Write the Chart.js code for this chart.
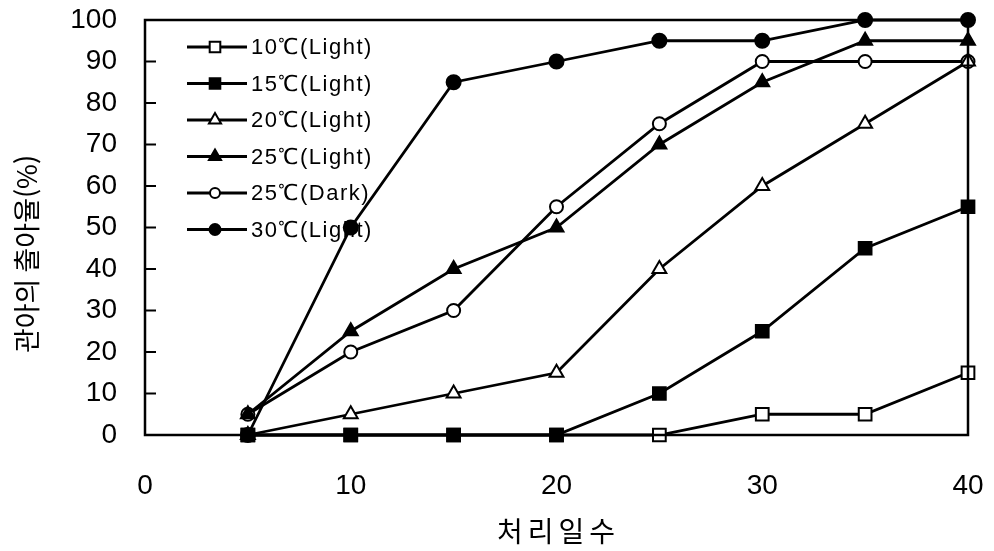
<!DOCTYPE html>
<html lang="ko">
  <head>
    <meta charset="UTF-8" />
    <title>출아율</title>
    <style>
      html, body { margin: 0; padding: 0; background: #fff; }
      .wrap { width: 994px; height: 551px; }
    </style>
  </head>
  <body>
    <div class="wrap"><canvas id="chart" width="994" height="551"></canvas></div>

    <script src="https://cdn.jsdelivr.net/npm/chart.js"></script>
    <script>
      const days = [5, 10, 15, 20, 25, 30, 35, 40];

      const t10Light = [0, 0, 0, 0, 0, 5, 5, 15];
      const t15Light = [0, 0, 0, 0, 10, 25, 45, 55];
      const t20Light = [0, 5, 10, 15, 40, 60, 75, 90];
      const t25Light = [5, 25, 40, 50, 70, 85, 95, 95];
      const t25Dark = [5, 20, 30, 55, 75, 90, 90, 90];
      const t30Light = [0, 50, 85, 90, 95, 95, 100, 100];

      const xTicks = [0, 10, 20, 30, 40];
      const yTicks = [0, 10, 20, 30, 40, 50, 60, 70, 80, 90, 100];

      const xTitle = "처리일수";
      const yTitle = "관아의 출아율(%)";

      const numFont = "'Liberation Sans', Arial, sans-serif";
      const korFont = "'Noto Sans CJK KR', 'Noto Sans', sans-serif";

      function series(label, values, style, filled, radius, legendRadius, order) {
        return {
          label,
          data: days.map((d, i) => ({ x: d, y: values[i] })),
          borderColor: "#000",
          borderWidth: 2.8,
          pointStyle: style,
          pointRadius: radius,
          legendRadius,
          order,
          pointBorderWidth: 2,
          pointBorderColor: "#000",
          pointBackgroundColor: filled ? "#000" : "#fff",
          tension: 0,
          fill: false,
        };
      }

      // box frame, inward y ticks, and axis titles
      const framePlugin = {
        id: "frame",
        afterDraw(chart) {
          const { ctx, chartArea: a, scales } = chart;
          ctx.save();
          ctx.strokeStyle = "#000";
          ctx.lineWidth = 2.5;
          ctx.strokeRect(a.left, a.top, a.right - a.left, a.bottom - a.top);
          ctx.lineWidth = 2;
          yTicks.forEach((v) => {
            const y = scales.y.getPixelForValue(v);
            ctx.beginPath();
            ctx.moveTo(a.left, y);
            ctx.lineTo(a.left + 11, y);
            ctx.stroke();
          });

          ctx.fillStyle = "#000";
          ctx.textAlign = "center";
          ctx.textBaseline = "middle";
          ctx.font = "28px " + korFont;
          ctx.letterSpacing = "5px";
          ctx.fillText(xTitle, (a.left + a.right) / 2 + 2, 531);

          ctx.font = "27px " + korFont;
          ctx.letterSpacing = "0px";
          ctx.translate(27, 254);
          ctx.rotate(-Math.PI / 2);
          ctx.fillText(yTitle, 0, 0);
          ctx.restore();
        },
      };

      // legend drawn as line-marker-line rows inside the plot
      const legendPlugin = {
        id: "lineLegend",
        afterDraw(chart) {
          const { ctx } = chart;
          const x0 = 187, x1 = 247, top = 47, gap = 36.5;
          ctx.save();
          chart.data.datasets.forEach((ds, i) => {
            const y = top + i * gap;
            ctx.strokeStyle = "#000";
            ctx.lineWidth = 2.8;
            ctx.beginPath();
            ctx.moveTo(x0, y);
            ctx.lineTo(x1, y);
            ctx.stroke();
            ctx.fillStyle = ds.pointBackgroundColor;
            ctx.lineWidth = 2;
            Chart.helpers.drawPoint(
              ctx,
              { pointStyle: ds.pointStyle, radius: ds.legendRadius, rotation: 0, borderWidth: 2 },
              215,
              y
            );
            ctx.fillStyle = "#000";
            ctx.font = "22px " + numFont;
            ctx.letterSpacing = "1.5px";
            ctx.textBaseline = "middle";
            ctx.textAlign = "left";
            ctx.fillText(ds.label, x1 + 4, y + 1);
          });
          ctx.restore();
        },
      };

      new Chart(document.getElementById("chart"), {
        type: "line",
        data: {
          datasets: [
            series("10℃(Light)", t10Light, "rect", false, 9, 7.5, 1),
            series("15℃(Light)", t15Light, "rect", true, 9, 7.5, 0),
            series("20℃(Light)", t20Light, "triangle", false, 8, 7, 0),
            series("25℃(Light)", t25Light, "triangle", true, 8, 7, 0),
            series("25℃(Dark)", t25Dark, "circle", false, 6.5, 5, 0),
            series("30℃(Light)", t30Light, "circle", true, 7, 5.5, 0),
          ],
        },
        options: {
          responsive: false,
          animation: false,
          clip: false,
          layout: {
            autoPadding: false,
            padding: { left: 0, right: 26, top: 20, bottom: 0 },
          },
          plugins: {
            legend: { display: false },
            tooltip: { enabled: false },
          },
          scales: {
            x: {
              type: "linear",
              min: 0,
              max: 40,
              afterBuildTicks: (s) => { s.ticks = xTicks.map((v) => ({ value: v })); },
              afterFit: (s) => {
                s.height = 116;
                s.paddingLeft = 0;
                s.paddingRight = 0;
              },
              grid: { display: false, drawTicks: false },
              border: { display: false },
              ticks: {
                color: "#000",
                padding: 34,
                font: { family: numFont, size: 28 },
              },
            },
            y: {
              min: 0,
              max: 100,
              afterBuildTicks: (s) => { s.ticks = yTicks.map((v) => ({ value: v })); },
              afterFit: (s) => {
                s.width = 145;
                s.paddingTop = 0;
                s.paddingBottom = 0;
              },
              grid: { display: false, drawTicks: false },
              border: { display: false },
              ticks: {
                color: "#000",
                padding: 28,
                font: { family: numFont, size: 28 },
              },
            },
          },
        },
        plugins: [framePlugin, legendPlugin],
      });
    </script>
  </body>
</html>
